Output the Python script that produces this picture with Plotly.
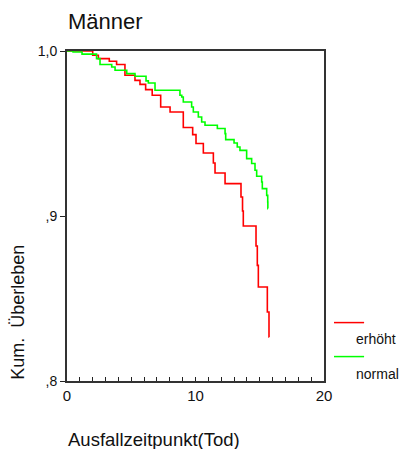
import plotly.graph_objects as go

# Kaplan-Meier step data (time, cumulative survival after the event)
erhoeht_time = [0.0, 2.00, 2.44, 3.29, 3.86, 4.51, 5.29, 5.68, 6.12, 6.63, 7.29, 8.02,
                 9.05, 9.78, 10.04, 10.61, 11.39, 11.52, 12.30, 13.54, 13.66, 13.72,
                 14.71, 14.81, 14.89, 15.59, 15.72, 15.74]
erhoeht_surv = [1.0, 0.9974, 0.9954, 0.9938, 0.9918, 0.9853, 0.9822, 0.9798, 0.9766,
                0.9732, 0.9661, 0.9630, 0.9536, 0.9493, 0.9439, 0.9382, 0.9321, 0.9261,
                0.9196, 0.9115, 0.9030, 0.8939, 0.8818, 0.8701, 0.8570, 0.8418, 0.8267,
                0.8267]

normal_time = [0.0, 0.47, 1.17, 2.30, 2.57, 3.48, 3.74, 4.65, 5.29, 6.15, 6.33, 6.85,
               8.79, 8.93, 9.05, 9.70, 9.83, 10.22, 10.48, 10.74, 11.70, 12.30, 12.35,
               13.00, 13.25, 13.46, 13.98, 14.37, 14.63, 14.76, 15.15, 15.20, 15.54,
               15.62, 15.63, 15.64]
normal_surv = [1.0, 0.9994, 0.9981, 0.9954, 0.9918, 0.9903, 0.9883, 0.9863, 0.9847,
               0.9819, 0.9806, 0.9762, 0.9732, 0.9721, 0.9691, 0.9661, 0.9630, 0.9600,
               0.9570, 0.9550, 0.9530, 0.9499, 0.9463, 0.9442, 0.9418, 0.9398, 0.9348,
               0.9318, 0.9277, 0.9241, 0.9206, 0.9166, 0.9125, 0.9085, 0.9045, 0.9045]

y_tickvals = [0.8, 0.9, 1.0]
y_ticktext = [",8", ",9", "1,0"]
x_tickvals = [0, 10, 20]
group_names = ["erhöht", "normal"]
group_colors = ["#ff0000", "#00ff00"]

FONT = "Liberation Sans, Arial, sans-serif"

fig = go.Figure()
fig.add_trace(go.Scatter(x=erhoeht_time, y=erhoeht_surv, mode="lines",
                         line=dict(shape="hv", color=group_colors[0], width=1.6),
                         name=group_names[0], showlegend=False))
fig.add_trace(go.Scatter(x=normal_time, y=normal_surv, mode="lines",
                         line=dict(shape="hv", color=group_colors[1], width=1.6),
                         name=group_names[1], showlegend=False))

fig.update_layout(
    width=402, height=449,
    margin=dict(l=67, r=78, t=51, b=68),
    paper_bgcolor="white", plot_bgcolor="white",
    font=dict(family=FONT, color="#111111"),
    xaxis=dict(range=[0, 20], tickvals=x_tickvals, ticks="inside", ticklen=4,
               tickwidth=1, tickcolor="#222", showgrid=False, zeroline=False,
               showline=True, linecolor="#333", linewidth=2, mirror=True,
               tickfont=dict(size=15, family=FONT),
               minor=dict(dtick=1, ticks="inside", ticklen=4, tickcolor="#222",
                          showgrid=False)),
    yaxis=dict(range=[0.8, 1.0], tickvals=y_tickvals, ticktext=y_ticktext,
               ticks="outside", ticklen=5, tickcolor="#222", showgrid=False,
               zeroline=False, showline=True, linecolor="#333", linewidth=2,
               mirror=True, tickfont=dict(size=14, family=FONT)),
)

# Title and axis titles
fig.add_annotation(text="Männer", xref="paper", yref="paper", x=-0.004, y=1.088,
                   xanchor="left", yanchor="middle", showarrow=False,
                   font=dict(size=22, family=FONT, color="#111"))
fig.add_annotation(text="Ausfallzeitpunkt(Tod)", xref="paper", yref="paper",
                   x=-0.004, y=-0.177, xanchor="left", yanchor="middle", showarrow=False,
                   font=dict(size=18.5, family=FONT, color="#111"))
fig.add_annotation(text="Kum.  Überleben", xref="paper", yref="paper",
                   x=-0.19, y=0.207, xanchor="center", yanchor="middle",
                   textangle=-90, showarrow=False,
                   font=dict(size=18, family=FONT, color="#111"))

# Legend (line above, label below)
leg_line_y = [0.177, 0.074]
leg_text_y = [0.126, 0.022]
for name, col, ly, ty in zip(group_names, group_colors, leg_line_y, leg_text_y):
    fig.add_shape(type="line", xref="paper", yref="paper", x0=1.039, x1=1.156,
                  y0=ly, y1=ly, line=dict(color=col, width=1.5))
    fig.add_annotation(text=name, xref="paper", yref="paper", x=1.117, y=ty,
                       xanchor="left", yanchor="middle", showarrow=False,
                       font=dict(size=14, family=FONT, color="#111"))

fig.write_html("out.html")
